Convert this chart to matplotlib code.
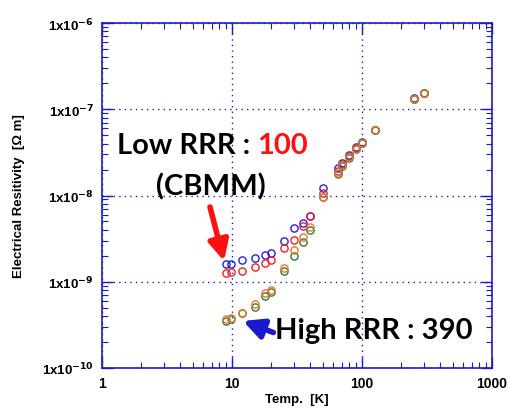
import matplotlib
matplotlib.use("Agg")
import matplotlib.pyplot as plt
from matplotlib.ticker import FixedLocator, LogLocator, NullFormatter

# temperatures [K]
temp_low = [9.0, 9.8, 12, 15, 18, 20, 25, 30, 35, 40, 50, 65, 70, 80, 90, 100, 125, 250, 300]
# Low RRR samples (blue / red)
rho_blue = [1.61e-9, 1.61e-9, 1.80e-9, 1.87e-9, 2.06e-9, 2.16e-9, 2.99e-9, 4.17e-9, 4.80e-9, 5.83e-9,
            1.21e-8, 2.07e-8, 2.38e-8, 2.95e-8, 3.62e-8, 4.21e-8, 5.82e-8, 1.34e-7, 1.56e-7]
rho_red = [1.26e-9, 1.30e-9, 1.34e-9, 1.47e-9, 1.66e-9, 1.80e-9, 2.44e-9, 3.08e-9, 4.40e-9, 5.83e-9,
           1.08e-8, 1.92e-8, 2.32e-8, 2.87e-8, 3.51e-8, 4.11e-8, 5.74e-8, 1.32e-7, 1.54e-7]
# High RRR samples (orange / green)
rho_orange = [3.70e-10, 3.80e-10, 4.31e-10, 5.45e-10, 7.31e-10, 8.13e-10, 1.43e-9, 2.35e-9, 3.27e-9, 4.28e-9,
              9.73e-9, 1.82e-8, 2.26e-8, 2.79e-8, 3.46e-8, 4.06e-8, 5.74e-8, 1.33e-7, 1.54e-7]
rho_green = [3.55e-10, 3.70e-10, 4.31e-10, 5.10e-10, 6.90e-10, 7.70e-10, 1.33e-9, 2.00e-9, 2.87e-9, 3.98e-9,
             9.60e-9, 1.78e-8, 2.22e-8, 2.75e-8, 3.42e-8, 4.02e-8, 5.70e-8, 1.33e-7, 1.54e-7]

x_ticks = [1, 10, 100, 1000]
x_labels = ["1", "10", "100", "1000"]
y_ticks = [1e-10, 1e-9, 1e-8, 1e-7, 1e-6]
y_labels = [r"1x10$^{\mathbf{-10}}$", r"1x10$^{\mathbf{-9}}$", r"1x10$^{\mathbf{-8}}$",
            r"1x10$^{\mathbf{-7}}$", r"1x10$^{\mathbf{-6}}$"]

axcol = "#1a1acc"
plt.rcParams["font.family"] = ["Liberation Sans", "DejaVu Sans"]
plt.rcParams["mathtext.default"] = "bf"

fig = plt.figure(figsize=(5.08, 4.14), dpi=100)
ax = fig.add_axes([0.2008, 0.1087, 0.7677, 0.8333])

mk = dict(ls="none", marker="o", mfc="none", ms=5.2, mew=1.0)
ax.plot(temp_low, rho_blue, color="#2020ee", **mk)
ax.plot(temp_low, rho_red, color="#ee2222", **mk)
ax.plot(temp_low, rho_green, color="#2e7d32", **mk)
ax.plot(temp_low, rho_orange, color="#e8782a", **mk)

ax.set_xscale("log")
ax.set_yscale("log")
ax.set_xlim(1, 1000)
ax.set_ylim(1e-10, 1e-6)
ax.xaxis.set_major_locator(FixedLocator(x_ticks))
ax.yaxis.set_major_locator(FixedLocator(y_ticks))
ax.set_xticklabels(x_labels, fontweight="bold", fontsize=10)
ax.set_yticklabels(y_labels, fontweight="bold", fontsize=9.5)
ax.xaxis.set_minor_locator(LogLocator(subs=range(2, 10)))
ax.yaxis.set_minor_locator(LogLocator(subs=range(2, 10)))
ax.xaxis.set_minor_formatter(NullFormatter())
ax.yaxis.set_minor_formatter(NullFormatter())
ax.tick_params(which="both", direction="in", top=True, right=True, color=axcol)
ax.tick_params(which="major", length=8, width=1, pad=6)
ax.tick_params(which="minor", length=4, width=0.8)
for sp in ax.spines.values():
    sp.set_color(axcol)
    sp.set_linewidth(1.2)
ax.grid(which="major", color=axcol, ls=(0, (1, 3)), lw=1)

ax.set_xlabel("Temp.  [K]", fontweight="bold", fontsize=9.5, labelpad=2)
ax.set_ylabel("Electrical Resitivity  [\u03a9 m]", fontweight="bold", fontsize=9.5, labelpad=12)

big = dict(fontsize=21, fontweight="bold", family=["Lato", "DejaVu Sans"])
fig.text(117 / 508, 1 - 146 / 414, "Low RRR : ", color="black", va="center", **big)
t1 = fig.text(0.0, 0.0, "Low RRR : ", **big)
fig.canvas.draw()
w = t1.get_window_extent().width / 508
t1.remove()
fig.text(117 / 508 + w, 1 - 146 / 414, "100", color="#ff1010", va="center", **big)
fig.text(211 / 508, 1 - 187 / 414, "(CBMM)", color="black", va="center", ha="center", **big)
fig.text(275 / 508, 1 - 331 / 414, "High RRR : 390", color="black", va="center", **big)

arr = dict(arrowstyle="-|>,head_width=0.3,head_length=0.6", lw=4, shrinkA=0, shrinkB=0,
           mutation_scale=20)
ax.annotate("", xy=(8.68, 1.74e-9), xytext=(6.77, 7.36e-9), arrowprops=dict(color="#ff1010", **arr))
ax.annotate("", xy=(12.15, 3.51e-10), xytext=(20.8, 2.58e-10), arrowprops=dict(color="#1a1acc", **arr))

fig.savefig("out.png", dpi=100)
